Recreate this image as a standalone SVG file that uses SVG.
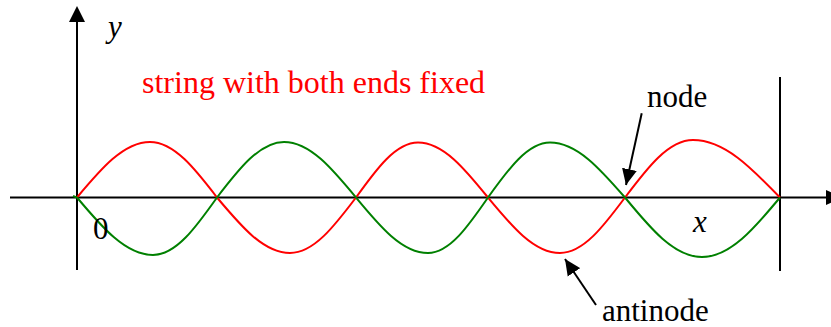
<svg xmlns="http://www.w3.org/2000/svg" width="831" height="327" viewBox="0 0 831 327">
<style>
.ax{stroke:#000;stroke-width:2;fill:none}
.red{stroke:#ff0000;stroke-width:2;fill:none}
.green{stroke:#008000;stroke-width:2;fill:none}
.lbl{font-size:31px;fill:#000}
.it{font-style:italic}
.title{font-size:32px;fill:#ff0000}
.arr{stroke:#000;stroke-width:2;fill:none;marker-end:url(#head)}
</style>
<defs>
<marker id="head" viewBox="0 -8 16 16" refX="16" refY="0" markerWidth="16" markerHeight="16" markerUnits="userSpaceOnUse" orient="auto">
<path d="M0,-7.5 L16,0 L0,7.5 z" fill="#000"/>
</marker>
</defs>
<g id="axes">
<line class="ax" x1="77" y1="270" x2="77" y2="20"/>
<polygon points="77,6 69,22 85,22" fill="#000"/>
<line class="ax" x1="10" y1="197.5" x2="828" y2="197.5"/>
<polygon points="826,190 826,205 842,197.5" fill="#000"/>
<line class="ax" x1="780" y1="77" x2="780" y2="271"/>
</g>
<g id="red-wave">
<path class="red" d="M77,197.5 C100.8,169.1 123.6,142 150,142 C174.2,142 195.2,169.1 217,197.5 C240.8,225.9 263.6,253 290,253 C313.9,253 334.5,225.9 356,197.5 C376.2,169.3 395.6,142.5 418,142.5 C443.3,142.5 465.2,169.3 488,197.5 C511.5,225.9 533.9,253 560,253 C583.5,253 603.8,225.9 625,197.5 C647.2,168 668.4,140 693,140 C724.5,140 751.6,168 780,197.5"/>
</g>
<g id="green-wave">
<path class="green" d="M73,196 L77,197.5 C101.8,227 125.5,255 153,255 C176.2,255 196.1,227 217,197.5 C238.8,169.1 259.8,142 284,142 C310.1,142 332.5,169.1 356,197.5 C379.5,225.9 401.9,253 428,253 C449.7,253 468.4,225.9 488,197.5 C508.2,169.3 527.6,142.5 550,142.5 C577.1,142.5 600.5,169.3 625,197.5 C650.1,228 674.1,257 702,257 C730.2,257 754.6,228 780,197.5"/>
</g>
<g id="connectors">
<line id="node-arrow" class="arr" x1="641.7" y1="113.3" x2="626" y2="185"/>
<line id="antinode-arrow" class="arr" x1="596" y1="305" x2="565" y2="259"/>
</g>
<g id="labels" font-family="Liberation Serif, Times New Roman, serif">
<text id="title" class="title" x="142" y="93">string with both ends fixed</text>
<text id="node-label" class="lbl" x="647" y="107">node</text>
<text id="antinode-label" class="lbl" x="602" y="321">antinode</text>
<text id="y-label" class="lbl it" x="108" y="37">y</text>
<text id="x-label" class="lbl it" x="693" y="232">x</text>
<text id="origin-label" class="lbl" x="93" y="239">0</text>
</g>
</svg>
